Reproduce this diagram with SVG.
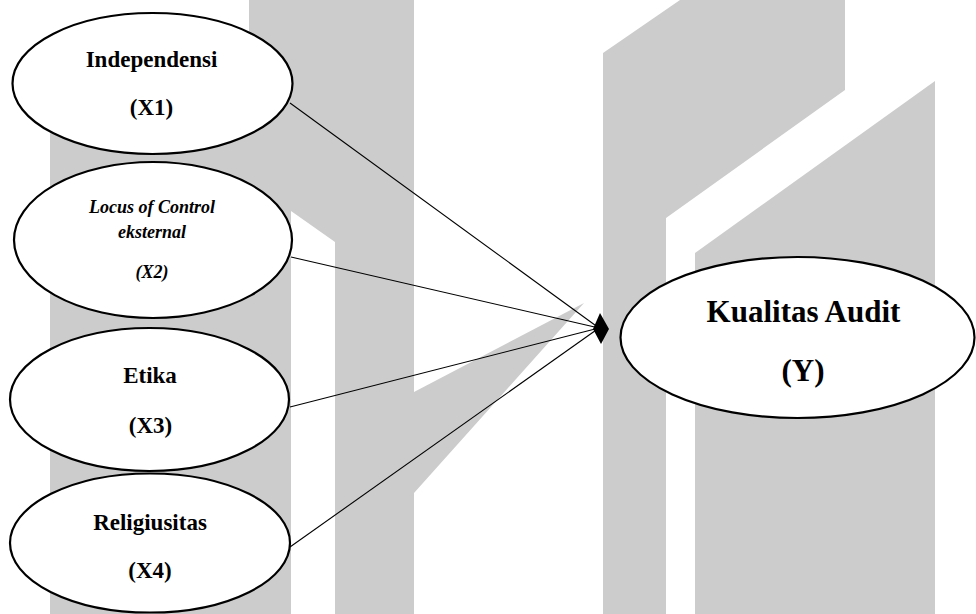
<svg xmlns="http://www.w3.org/2000/svg" width="976" height="614" viewBox="0 0 976 614">
<style>
.bg{fill:#cccccc;stroke:none}
.node ellipse{fill:#ffffff;stroke:#000000;stroke-width:2.2}
.t{font-family:"Liberation Serif","Times New Roman",serif;font-weight:bold;fill:#000000;text-anchor:middle}
.it{font-style:italic}
.conn line{stroke:#000000;stroke-width:1.1}
</style>
<rect width="976" height="614" fill="#ffffff"/>
<g id="watermark">
<polygon class="bg" points="249,0 335,0 335,242 291,211 291,614 50,614 50,80 249,80"/>
<polygon class="bg" points="335,0 414,0 414,392 584,303 414,493 414,614 335,614"/>
<polygon class="bg" points="603,53 680,0 845,0 845,90 666,218 666,614 603,614"/>
<polygon class="bg" points="695,253 935,81 935,614 695,614"/>
</g>
<g id="connectors" class="conn">
<line x1="290" y1="103" x2="599" y2="328"/>
<line x1="291" y1="257" x2="599" y2="328"/>
<line x1="290" y1="407" x2="599" y2="328"/>
<line x1="290" y1="547" x2="599" y2="328"/>
<polygon points="600,313 609,329 601,344 593,329" fill="#000000"/>
</g>
<g id="x1" class="node">
<ellipse cx="152.5" cy="83.5" rx="140" ry="70.5"/>
<text class="t" x="151.5" y="67" font-size="23">Independensi</text>
<text class="t" x="151.5" y="115" font-size="23">(X1)</text>
</g>
<g id="x2" class="node">
<ellipse cx="153" cy="240" rx="139" ry="78"/>
<text class="t it" x="152" y="213" font-size="18">Locus of Control</text>
<text class="t it" x="152" y="238" font-size="18">eksternal</text>
<text class="t it" x="152" y="278" font-size="18">(X2)</text>
</g>
<g id="x3" class="node">
<ellipse cx="149.5" cy="399.5" rx="139.5" ry="71.5"/>
<text class="t" x="150" y="383" font-size="23">Etika</text>
<text class="t" x="150.5" y="433" font-size="23">(X3)</text>
</g>
<g id="x4" class="node">
<ellipse cx="150" cy="543" rx="140" ry="69.5"/>
<text class="t" x="150" y="530" font-size="23">Religiusitas</text>
<text class="t" x="150" y="578" font-size="23">(X4)</text>
</g>
<g id="y" class="node">
<ellipse cx="797.5" cy="337.5" rx="177" ry="80.5"/>
<text class="t" x="803.5" y="322" font-size="31">Kualitas Audit</text>
<text class="t" x="803" y="381" font-size="31">(Y)</text>
</g>
</svg>
